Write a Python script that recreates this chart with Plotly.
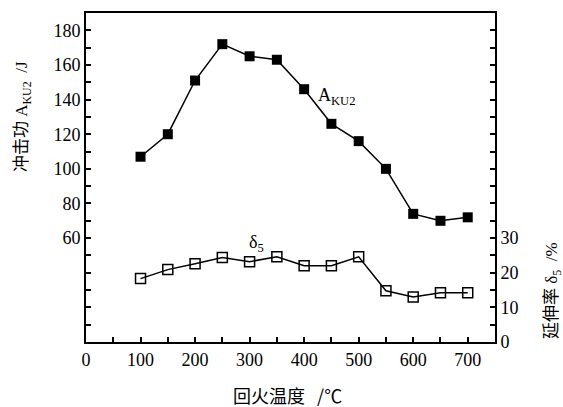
import plotly.graph_objects as go

temps = [100, 150, 200, 250, 300, 350, 400, 450, 500, 550, 600, 650, 700]
aku2 = [107, 120, 151, 172, 165, 163, 146, 126, 116, 100, 74, 70, 72]
delta5 = [18.3, 20.9, 22.6, 24.4, 23.2, 24.6, 22.0, 22.0, 24.6, 14.8, 13.0, 14.2, 14.2]

x_ticks = list(range(0, 751, 50))
x_labels = [str(v) if v % 100 == 0 and v <= 700 else "" for v in x_ticks]
yl_ticks = list(range(0, 191, 10))
yl_labels = [str(v) if (v >= 60 and v % 20 == 0) else "" for v in yl_ticks]
yr_ticks = list(range(0, 96, 5))
yr_labels = [str(v) if (v <= 30 and v % 10 == 0) else "" for v in yr_ticks]

serif = "Liberation Serif, Times New Roman, serif"
cjk = "Noto Sans CJK SC"

W, H = 563, 407
l, r, t, b = 86, 68, 13, 65
pw, ph = W - l - r, H - t - b
def px(xp): return (xp - l) / pw
def py(yp): return (H - b - yp) / ph

fig = go.Figure()
fig.add_trace(go.Scatter(
    x=temps, y=aku2, mode="lines+markers",
    line=dict(color="black", width=1.5),
    marker=dict(symbol="square", size=10, color="black"),
    yaxis="y", showlegend=False))
fig.add_trace(go.Scatter(
    x=temps, y=delta5, mode="lines+markers",
    line=dict(color="black", width=1.5),
    marker=dict(symbol="square-open", size=10, color="black", line=dict(width=1.5)),
    yaxis="y2", showlegend=False))

axis_common = dict(ticks="inside", ticklen=5, tickwidth=1.5, tickcolor="black",
                   showline=True, linecolor="black", linewidth=2, showgrid=False,
                   zeroline=False, automargin=False,
                   tickfont=dict(family=serif, size=18, color="black"))

fig.update_layout(
    width=W, height=H,
    margin=dict(l=l, r=r, t=t, b=b),
    paper_bgcolor="white", plot_bgcolor="white",
    xaxis=dict(range=[0, 750], tickmode="array", tickvals=x_ticks, ticktext=x_labels,
               mirror=True, **axis_common),
    yaxis=dict(range=[0, 190], tickmode="array", tickvals=yl_ticks, ticktext=yl_labels,
               **axis_common),
    yaxis2=dict(range=[0, 95], tickmode="array", tickvals=yr_ticks, ticktext=yr_labels,
                overlaying="y", side="right", **axis_common),
    annotations=[
        dict(x=422, y=142, xref="x", yref="y", xanchor="left", yanchor="middle",
             text="A<sub>KU2</sub>", showarrow=False,
             font=dict(family=serif, size=18, color="black")),
        dict(x=296, y=57, xref="x", yref="y", xanchor="left", yanchor="middle",
             text="δ<sub>5</sub>", showarrow=False,
             font=dict(family=serif, size=18, color="black")),
        dict(x=px(20), y=py(117), xref="paper", yref="paper", xanchor="center", yanchor="middle",
             text="<span style='font-family:Noto Sans CJK SC'>冲击功</span> A<sub>KU2</sub>  /J",
             showarrow=False, textangle=-90,
             font=dict(family=serif, size=17, color="black")),
        dict(x=px(550), y=py(291), xref="paper", yref="paper", xanchor="center", yanchor="middle",
             text="<span style='font-family:Noto Sans CJK SC'>延伸率</span> δ<sub>5</sub>  /%",
             showarrow=False, textangle=-90, font=dict(family=serif, size=17, color="black")),
        dict(x=px(287), y=py(395), xref="paper", yref="paper", xanchor="center", yanchor="middle",
             text="回火温度   /℃", showarrow=False,
             font=dict(family=cjk, size=18, color="black")),
    ],
)

fig.write_html("out.html", post_script="document.body.style.margin='0';",
               config={"displayModeBar": False})
